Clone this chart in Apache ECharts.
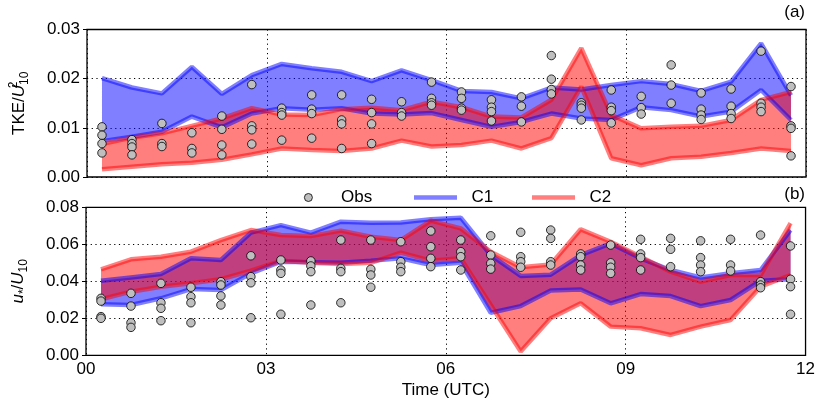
<!DOCTYPE html>
<html>
<head>
<meta charset="utf-8">
<script src="https://cdn.jsdelivr.net/npm/echarts@6/dist/echarts.min.js"></script>
<style>
  html, body { margin: 0; padding: 0; background: #fff; }
  #chart { width: 818px; height: 405px; }
</style>
</head>
<body>
<div id="chart"></div>
<script>
// time of each sample (hours UTC)
const times = [0.25, 0.75, 1.25, 1.75, 2.25, 2.75, 3.25, 3.75, 4.25, 4.75, 5.25, 5.75,
  6.25, 6.75, 7.25, 7.75, 8.25, 8.75, 9.25, 9.75, 10.25, 10.75, 11.25, 11.75];
const xTicks = ['00', '03', '06', '09', '12'];

// (a) TKE / U10^2 ranges
const c1TkeHi = [0.0201, 0.0182, 0.0170, 0.0224, 0.0169, 0.0207, 0.0230, 0.0221, 0.0214, 0.0195, 0.0217, 0.0197,
  0.0175, 0.0173, 0.0160, 0.0182, 0.0178, 0.0187, 0.0195, 0.0189, 0.0175, 0.0194, 0.0272, 0.0166];
const c1TkeLo = [0.0073, 0.0082, 0.0092, 0.0123, 0.0101, 0.0129, 0.0140, 0.0137, 0.0140, 0.0129, 0.0127, 0.0130,
  0.0116, 0.0102, 0.0112, 0.0129, 0.0119, 0.0116, 0.0142, 0.0136, 0.0123, 0.0133, 0.0177, 0.0116];
const c2TkeHi = [0.0067, 0.0080, 0.0089, 0.0104, 0.0119, 0.0140, 0.0127, 0.0126, 0.0138, 0.0141, 0.0136, 0.0153,
  0.0142, 0.0123, 0.0121, 0.0157, 0.0262, 0.0126, 0.0099, 0.0102, 0.0104, 0.0116, 0.0157, 0.0173];
const c2TkeLo = [0.0016, 0.0021, 0.0026, 0.0029, 0.0035, 0.0046, 0.0058, 0.0055, 0.0053, 0.0058, 0.0074, 0.0062,
  0.0065, 0.0074, 0.0058, 0.0079, 0.0184, 0.0038, 0.0024, 0.0038, 0.0041, 0.0049, 0.0058, 0.0053];
const obsTke = [
  [0.0102, 0.0085, 0.0068, 0.0049], [0.0076, 0.0068, 0.0061, 0.0045], [0.0109, 0.0068, 0.0062],
  [0.0090, 0.0058, 0.0049], [0.0124, 0.0097, 0.0065, 0.0045], [0.0188, 0.0104, 0.0096, 0.0067],
  [0.0140, 0.0131, 0.0126, 0.0075], [0.0167, 0.0138, 0.0129, 0.0079], [0.0167, 0.0116, 0.0108, 0.0058],
  [0.0158, 0.0131, 0.0108, 0.0068], [0.0153, 0.0131, 0.0124], [0.0193, 0.0160, 0.0151, 0.0146],
  [0.0173, 0.0160, 0.0140, 0.0136], [0.0157, 0.0142, 0.0133, 0.0114], [0.0163, 0.0144, 0.0112],
  [0.0247, 0.0199, 0.0178, 0.0169], [0.0151, 0.0146, 0.0140, 0.0116], [0.0177, 0.0142, 0.0135, 0.0110],
  [0.0164, 0.0141, 0.0128], [0.0228, 0.0187, 0.0150], [0.0171, 0.0138, 0.0126, 0.0117],
  [0.0179, 0.0144, 0.0129, 0.0119], [0.0256, 0.0150, 0.0142, 0.0133], [0.0184, 0.0104, 0.0099, 0.0043]
];

// (b) u* / U10 ranges
const c1UHi = [0.0403, 0.0421, 0.0439, 0.0524, 0.0515, 0.0663, 0.0704, 0.0663, 0.0722, 0.0716, 0.0718, 0.0735,
  0.0744, 0.0542, 0.0429, 0.0436, 0.0542, 0.0605, 0.0524, 0.0461, 0.0421, 0.0443, 0.0461, 0.0677];
const c1ULo = [0.0276, 0.0272, 0.0308, 0.0358, 0.0353, 0.0443, 0.0506, 0.0503, 0.0500, 0.0511, 0.0524, 0.0488,
  0.0500, 0.0230, 0.0266, 0.0350, 0.0356, 0.0281, 0.0331, 0.0320, 0.0266, 0.0299, 0.0403, 0.0411];
const c2UHi = [0.0465, 0.0519, 0.0533, 0.0560, 0.0623, 0.0677, 0.0650, 0.0645, 0.0674, 0.0641, 0.0623, 0.0728,
  0.0686, 0.0560, 0.0476, 0.0491, 0.0681, 0.0614, 0.0533, 0.0452, 0.0398, 0.0434, 0.0434, 0.0714];
const c2ULo = [0.0303, 0.0344, 0.0371, 0.0389, 0.0411, 0.0457, 0.0511, 0.0500, 0.0494, 0.0500, 0.0555, 0.0511,
  0.0524, 0.0272, 0.0020, 0.0200, 0.0281, 0.0155, 0.0146, 0.0110, 0.0155, 0.0191, 0.0371, 0.0434];
const obsU = [
  [0.0308, 0.0293, 0.0209, 0.0200], [0.0335, 0.0266, 0.0176, 0.0151], [0.0389, 0.0284, 0.0254, 0.0187],
  [0.0368, 0.0317, 0.0284, 0.0176], [0.0398, 0.0380, 0.0321, 0.0272], [0.0538, 0.0425, 0.0392, 0.0203],
  [0.0515, 0.0461, 0.0443, 0.0222], [0.0510, 0.0483, 0.0452, 0.0272], [0.0623, 0.0470, 0.0452, 0.0284],
  [0.0623, 0.0465, 0.0434, 0.0368], [0.0614, 0.0506, 0.0476, 0.0452], [0.0672, 0.0587, 0.0524, 0.0479],
  [0.0623, 0.0560, 0.0533, 0.0461], [0.0646, 0.0542, 0.0497, 0.0466], [0.0665, 0.0533, 0.0506, 0.0476],
  [0.0677, 0.0632, 0.0506, 0.0488], [0.0548, 0.0533, 0.0488, 0.0461], [0.0596, 0.0500, 0.0476, 0.0443],
  [0.0627, 0.0548, 0.0528, 0.0461], [0.0632, 0.0573, 0.0479], [0.0619, 0.0528, 0.0488, 0.0452],
  [0.0627, 0.0488, 0.0456], [0.0650, 0.0398, 0.0380, 0.0365], [0.0591, 0.0411, 0.0371, 0.0222]
];

const FONT = 'Liberation Sans, Arial, sans-serif';
const FS = 17;
const BLUE = 'rgb(0,0,255)';
const RED = 'rgb(255,0,0)';

const pairs = (ys) => times.map((t, i) => [t, ys[i]]);
const obsPoints = (obs) => {
  const pts = [];
  obs.forEach((col, i) => col.forEach(v => pts.push([times[i], v])));
  return pts;
};

// a range band = filled polygon (custom series) + upper and lower edge lines
function band(name, color, hi, lo, idx) {
  const line = { color: color, width: 4.5, opacity: 0.5 };
  const fill = {
    name: name + ' range', type: 'custom', xAxisIndex: idx, yAxisIndex: idx,
    data: times.map((t, i) => [t, lo[i], hi[i]]),
    encode: { x: 0, y: [1, 2] },
    silent: true,
    renderItem: function (params, api) {
      if (params.dataIndex !== 0) return;
      const top = times.map((t, i) => api.coord([t, hi[i]]));
      const bot = times.map((t, i) => api.coord([t, lo[i]])).reverse();
      return {
        type: 'polygon',
        shape: { points: top.concat(bot) },
        style: { fill: color, opacity: 0.5 }
      };
    }
  };
  const edge = (nm, ys) => ({
    name: nm, type: 'line', xAxisIndex: idx, yAxisIndex: idx,
    data: pairs(ys), symbol: 'none', lineStyle: line,
    itemStyle: { color: color }, silent: true
  });
  return [fill, edge(name, hi), edge(name + ' lo', lo)];
}

function obsSeries(obs, idx) {
  return {
    name: 'Obs', type: 'scatter', xAxisIndex: idx, yAxisIndex: idx,
    data: obsPoints(obs), symbol: 'circle', symbolSize: 8.5,
    itemStyle: { color: '#bfbfbf', borderColor: '#000', borderWidth: 0.8, opacity: 1 },
    z: 5
  };
}

const splitDots = { show: true, lineStyle: { color: '#000', type: [1.2, 3.5], width: 1 } };

function xAxis(idx, showLabels) {
  return {
    type: 'value', gridIndex: idx, min: 0, max: 12, interval: 3,
    axisLine: { show: false },
    axisTick: { show: false },
    splitLine: splitDots,
    axisLabel: {
      show: showLabels, color: '#000', fontFamily: FONT, fontSize: FS, margin: 6,
      formatter: v => xTicks[v / 3]
    },
    name: showLabels ? 'Time (UTC)' : '',
    nameLocation: 'middle', nameGap: 27,
    nameTextStyle: { color: '#000', fontFamily: FONT, fontSize: FS }
  };
}

function yAxis(idx, max, interval, name, rich, gap) {
  return {
    type: 'value', gridIndex: idx, min: 0, max: max, interval: interval,
    axisLine: { show: false },
    axisTick: { show: true, inside: false, length: 4, lineStyle: { color: '#000' } },
    splitLine: splitDots,
    axisLabel: { color: '#000', fontFamily: FONT, fontSize: FS, margin: 7, formatter: v => v.toFixed(2) },
    name: name, nameLocation: 'middle', nameGap: gap,
    nameTextStyle: { color: '#000', fontFamily: FONT, fontSize: FS, rich: rich }
  };
}

const richName = {
  t: { fontFamily: FONT, fontSize: FS, color: '#000', lineHeight: 23 },
  i: { fontFamily: FONT, fontSize: FS, color: '#000', fontStyle: 'italic', lineHeight: 23 },
  sp: { fontFamily: FONT, fontSize: 12, color: '#000', verticalAlign: 'top', width: 0.01, lineHeight: 23 },
  sb: { fontFamily: FONT, fontSize: 12, color: '#000', verticalAlign: 'bottom', lineHeight: 23 }
};

// one legend per entry so each sits where the reference puts it
function legendItem(left, w, h, pad, item) {
  return {
    left: left, top: 184, itemWidth: w, itemHeight: h,
    textStyle: { fontFamily: FONT, fontSize: FS, color: '#000' },
    formatter: n => pad + n,
    data: [item], selectedMode: false
  };
}

const chart = echarts.init(document.getElementById('chart'), null, { renderer: 'canvas' });

chart.setOption({
  animation: false,
  backgroundColor: '#fff',
  textStyle: { fontFamily: FONT },
  title: [
    { text: '(a)', right: 13, top: 4, padding: 0, textStyle: { fontFamily: FONT, fontSize: FS, fontWeight: 'normal', color: '#000' } },
    { text: '(b)', right: 13, top: 186, padding: 0, textStyle: { fontFamily: FONT, fontSize: FS, fontWeight: 'normal', color: '#000' } }
  ],
  legend: [
    legendItem(299, 8, 8, '     ', { name: 'Obs', icon: 'circle', itemStyle: { color: '#bfbfbf', borderColor: '#000', borderWidth: 0.8 } }),
    legendItem(409, 43, 4.5, '  ', { name: 'C1', icon: 'rect', itemStyle: { color: 'rgba(0,0,255,0.5)', borderWidth: 0 } }),
    legendItem(527, 43, 4.5, '  ', { name: 'C2', icon: 'rect', itemStyle: { color: 'rgba(255,0,0,0.5)', borderWidth: 0 } })
  ],
  grid: [
    { left: 86, right: 12, top: 29.5, height: 147.5, show: true, borderColor: '#000', borderWidth: 1.3, backgroundColor: 'transparent' },
    { left: 86, right: 12, top: 207.3, height: 148, show: true, borderColor: '#000', borderWidth: 1.3, backgroundColor: 'transparent' }
  ],
  xAxis: [xAxis(0, false), xAxis(1, true)],
  yAxis: [
    yAxis(0, 0.03, 0.01, '{t|TKE/}{i|U}{sp|2}{sb|10}', richName, 56),
    yAxis(1, 0.08, 0.02, '{i|u}{sb|*}{t|/}{i|U}{sb|10}', richName, 56)
  ],
  series: [
    ...band('C1', BLUE, c1TkeHi, c1TkeLo, 0),
    ...band('C2', RED, c2TkeHi, c2TkeLo, 0),
    obsSeries(obsTke, 0),
    ...band('C1', BLUE, c1UHi, c1ULo, 1),
    ...band('C2', RED, c2UHi, c2ULo, 1),
    obsSeries(obsU, 1)
  ]
});
</script>
</body>
</html>
